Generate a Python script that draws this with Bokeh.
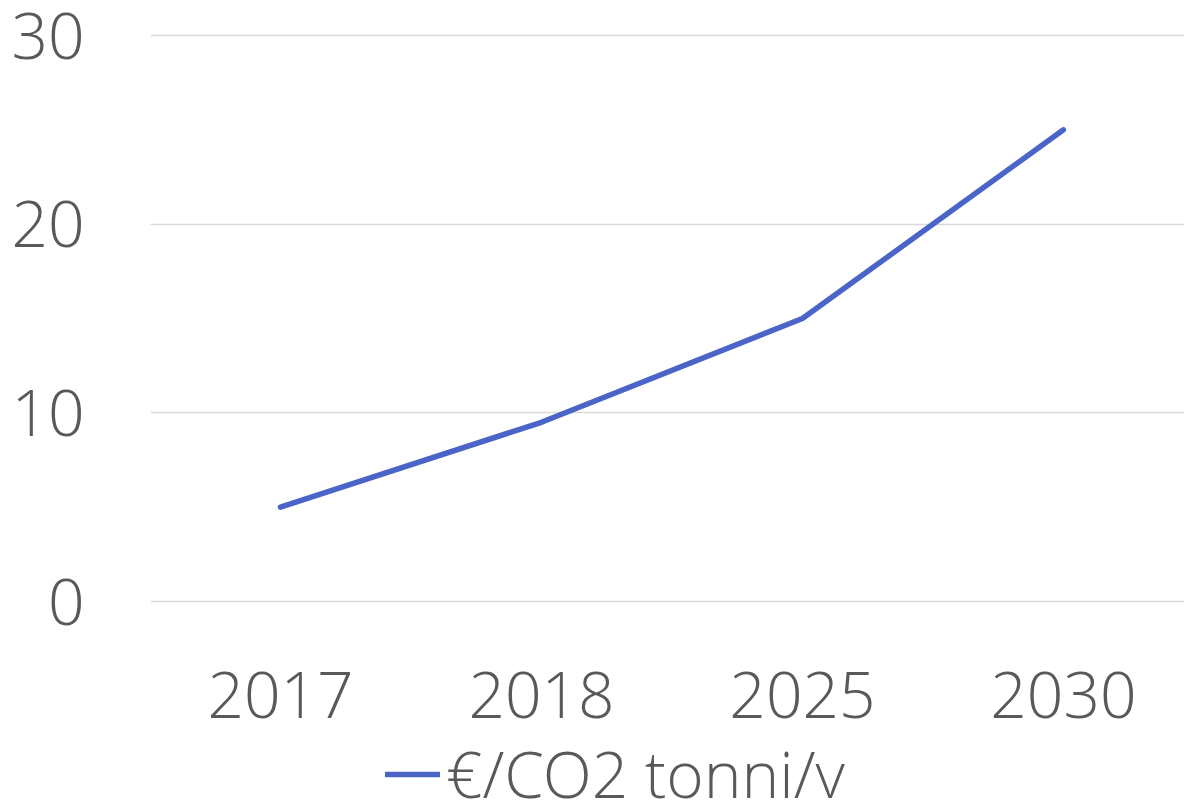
from bokeh.plotting import figure
from bokeh.models import Range1d, Legend, LegendItem, FixedTicker, ColumnDataSource
from bokeh.embed import file_html
from bokeh.resources import INLINE

years = ["2017", "2018", "2025", "2030"]
prices = [5, 9.5, 15, 25]
series_name = "€/CO2 tonni/v"
y_ticks = [0, 10, 20, 30]

FONT = "'Open Sans Light', 'Open Sans'"
TXT = "#595959"
LINE = "#4a64c8"

idx = list(range(len(years)))
src = ColumnDataSource(dict(x=idx, y=prices))

p = figure(frame_width=1034, frame_height=771, output_backend="svg", toolbar_location=None,
           x_range=Range1d(-0.498, 3.464), y_range=Range1d(-10.6, 30.265),
           min_border_left=150, min_border_right=0, min_border_top=30,
           min_border_bottom=0,
           outline_line_color=None)

r = p.line("x", "y", source=src, line_color=LINE, line_width=5.5,
           line_cap="round", line_join="round")

p.xaxis.ticker = FixedTicker(ticks=idx)
p.xaxis.major_label_overrides = {i: y for i, y in enumerate(years)}
p.yaxis.ticker = FixedTicker(ticks=y_ticks)

for ax in (p.xaxis[0], p.yaxis[0]):
    ax.axis_line_color = None
    ax.major_tick_line_color = None
    ax.minor_tick_line_color = None
    ax.major_label_text_font = FONT
    ax.major_label_text_font_size = "64px"
    ax.major_label_text_color = TXT

p.yaxis.major_label_standoff = 60
p.xaxis.major_label_standoff = -136

p.xgrid.grid_line_color = None
p.ygrid.grid_line_color = "#d9d9d9"
p.ygrid.grid_line_width = 1.5
p.ygrid.ticker = FixedTicker(ticks=y_ticks)

legend = Legend(items=[LegendItem(label=series_name, renderers=[r])],
                location=(235, -16), orientation="horizontal",
                label_text_font=FONT, label_text_font_size="64px",
                label_text_color=TXT, glyph_width=55, glyph_height=20,
                label_standoff=6, padding=0, margin=0, border_line_color=None,
                background_fill_alpha=0)
p.add_layout(legend, "center")

open("out.html", "w").write(file_html(p, INLINE))
